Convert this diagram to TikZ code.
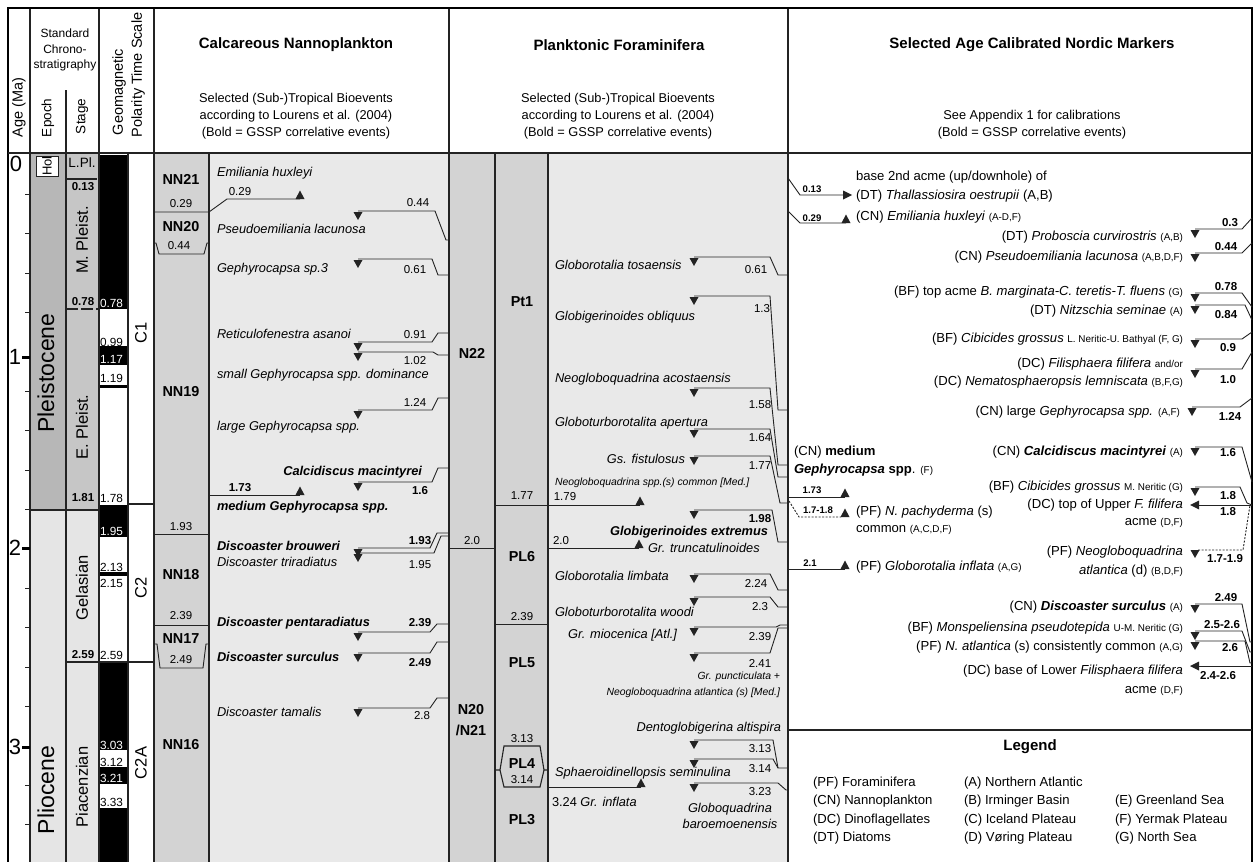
\documentclass[tikz,border=0pt]{standalone}
\usepackage{fontspec}
\setmainfont{Liberation Sans}
\definecolor{plE}{RGB}{183,183,183}
\definecolor{plS}{RGB}{198,198,198}
\definecolor{plio}{RGB}{229,229,229}
\definecolor{zone}{RGB}{211,211,211}
\definecolor{evbg}{RGB}{233,233,233}
\definecolor{ln}{RGB}{35,35,35}
\tikzset{
  every node/.style={inner sep=0pt, outer sep=0pt},
  f/.style={font=\fontsize{13.1}{15}\selectfont},
  fi/.style={font=\fontsize{12.8}{14}\selectfont\itshape},
  fb/.style={font=\fontsize{12.8}{14}\selectfont\bfseries},
  fbi/.style={font=\fontsize{12.8}{14}\selectfont\bfseries\itshape},
  fs/.style={font=\fontsize{10.4}{12}\selectfont\itshape},
  lb/.style={font=\fontsize{11.5}{13}\selectfont},
  lbb/.style={font=\fontsize{11.5}{13}\selectfont\bfseries},
  lbs/.style={font=\fontsize{9.6}{11}\selectfont\bfseries},
  zn/.style={font=\fontsize{14.4}{16}\selectfont\bfseries},
  hd/.style={font=\fontsize{15}{17}\selectfont\bfseries},
  hs/.style={font=\fontsize{12.8}{14}\selectfont},
  pol/.style={font=\fontsize{11.8}{13}\selectfont, anchor=west},
  stg/.style={rotate=90, font=\fontsize{16.5}{18}\selectfont},
  epo/.style={rotate=90, font=\fontsize{23}{25}\selectfont},
  ev/.style={line width=0.9pt, draw=ln},
  col/.style={line width=1.3pt, draw=ln},
}
\newcommand\sr[1]{{\fontsize{9.9}{11}\selectfont\upshape\mdseries #1}}
\newcommand\dtri[2]{\fill[ln] ({#1-4.5},{#2+1}) -- ({#1+4.5},{#2+1}) -- (#1,{#2+9}) -- cycle;}
\newcommand\utri[2]{\fill[ln] ({#1-4.5},#2) -- ({#1+4.5},#2) -- (#1,{#2-8.5}) -- cycle;}
\newcommand\rtri[2]{\fill[ln] ({#1-9},{#2-4.5}) -- ({#1-9},{#2+4.5}) -- (#1,#2) -- cycle;}
\newcommand\ltri[2]{\fill[ln] ({#1+9},{#2-4.5}) -- ({#1+9},{#2+4.5}) -- (#1,#2) -- cycle;}
\begin{document}
\begin{tikzpicture}[x=1pt,y=-1pt]
\useasboundingbox (0,0) rectangle (1258,862);
\fill[white] (0,0) rectangle (1258,862);
% ---------- fills
\fill[plE] (30,153) rectangle (66,510);
\fill[plio] (30,510) rectangle (66,862);
\fill[plS] (66,153) rectangle (99,510);
\fill[plio] (66,510) rectangle (99,862);
\fill[black] (99,155) rectangle (128,309);
\fill[black] (99,346) rectangle (128,365);
\fill[black] (99,385) rectangle (128,388);
\fill[black] (99,505) rectangle (128,537);
\fill[black] (99,572) rectangle (128,576);
\fill[black] (99,662) rectangle (128,750);
\fill[black] (99,767) rectangle (128,784);
\fill[black] (99,808) rectangle (128,862);
\fill[zone] (154,153) rectangle (209,862);
\fill[evbg] (209,153) rectangle (449,862);
\fill[zone] (449,153) rectangle (548,862);
\fill[evbg] (548,153) rectangle (788,862);
% ---------- grid
\draw[col] (30,8)--(30,862) (99,8)--(99,862) (154,8)--(154,862) (449,8)--(449,862);
\draw[col, line width=1.6pt] (788,8)--(788,862);
\draw[col] (66,90)--(66,862) (128,153)--(128,862) (209,153)--(209,862) (495,153)--(495,862) (548,153)--(548,862);
\draw[line width=2.2pt] (8,8)--(1252,8);
\draw[line width=2.2pt] (8,7)--(8,862);
\draw[line width=2.6pt] (1252,7)--(1252,862);
\draw[line width=1.8pt, ln] (8,153)--(1252,153);
% ---------- header
\node[rotate=90, anchor=west, font=\fontsize{14.5}{16}\selectfont] at (19,137) {Age (Ma)};
\node[font=\fontsize{12}{13}\selectfont] at (65,33) {Standard};
\node[font=\fontsize{12}{13}\selectfont] at (65,49) {Chrono-};
\node[font=\fontsize{12}{13}\selectfont] at (65,65) {stratigraphy};
\node[rotate=90, anchor=west, font=\fontsize{13.5}{15}\selectfont] at (48,137) {Epoch};
\node[rotate=90, anchor=west, font=\fontsize{13.5}{15}\selectfont] at (82,134) {Stage};
\node[rotate=90, anchor=west, font=\fontsize{14.5}{16}\selectfont] at (119,135) {Geomagnetic};
\node[rotate=90, anchor=west, font=\fontsize{14.5}{16}\selectfont] at (138,137) {Polarity Time Scale};
\node[hd] at (296,45) {Calcareous Nannoplankton};
\node[hs] at (296,99) {Selected (Sub-)Tropical Bioevents};
\node[hs] at (296,116) {according to Lourens et al. (2004)};
\node[hs] at (296,133) {(Bold = GSSP correlative events)};
\node[hd] at (619,45) {Planktonic Foraminifera};
\node[hs] at (618,99) {Selected (Sub-)Tropical Bioevents};
\node[hs] at (618,116) {according to Lourens et al. (2004)};
\node[hs] at (618,133) {(Bold = GSSP correlative events)};
\node[hd] at (1032,45) {Selected Age Calibrated Nordic Markers};
\node[hs] at (1032,116) {See Appendix 1 for calibrations};
\node[hs] at (1032,133) {(Bold = GSSP correlative events)};
% ---------- age scale
\foreach \a in {0.2,0.4,0.6,0.8,1.2,1.4,1.6,1.8,2.2,2.4,2.6,2.8,3.2,3.4}
  \draw[line width=0.8pt, ln] (25,{155+197*\a}) -- (30,{155+197*\a});
\foreach \y/\l in {357/1,548/2,747/3} {
  \draw[line width=3pt] (22,\y)--(30,\y);
  \node[font=\fontsize{22}{24}\selectfont] at (15,\y) {\l};
}
\node[font=\fontsize{22}{24}\selectfont] at (16,164) {0};
% ---------- epoch
\draw[col] (30,510)--(99,510);
\draw[ln, fill=white, line width=1pt] (36,156) rectangle (58,176);
\node[rotate=90, font=\fontsize{13}{14}\selectfont] at (47,166) {Hol};
\node[epo] at (46,373) {Pleistocene};
\node[epo] at (46,790) {Pliocene};
% ---------- stage
\node[font=\fontsize{13.5}{15}\selectfont] at (82,163) {L.Pl.};
\draw[ln, line width=1.1pt] (66,179)--(97,179);
\node[lbb] at (83,187) {0.13};
\node[stg] at (82,240) {M. Pleist.};
\draw[ln, line width=1.1pt, dash pattern=on 12pt off 3pt] (66,309)--(99,309);
\node[lbb] at (83,302) {0.78};
\node[stg] at (82,427) {E. Pleist.};
\node[lbb] at (83,498) {1.81};
\node[stg] at (82,588) {Gelasian};
\node[lbb] at (83,655) {2.59};
\draw[col] (66,662)--(154,662);
\node[stg] at (82,787) {Piacenzian};
% ---------- polarity labels
\foreach \y/\l in {303/0.78,359/1.17,531/1.95,745/3.03,778/3.21}
  \node[pol, text=white] at (100,\y) {\l};
\foreach \y/\l in {342/0.99,378/1.19,498/1.78,567/2.13,583/2.15,655/2.59,762/3.12,802/3.33}
  \node[pol] at (100,\y) {\l};
\node[stg] at (141,333) {C1};
\draw[col] (128,504)--(154,504);
\node[stg] at (141,588) {C2};
\node[stg] at (141,763) {C2A};
% ---------- nannoplankton zones
\node[zn] at (181,179) {NN21};
\node[lb] at (181,204) {0.29};
\node[zn] at (181,227) {NN20};
\draw[ev] (154,243)--(156,243)--(159,254)--(204,254)--(207,243)--(209,243);
\node[lb] at (179,246) {0.44};
\node[zn] at (181,392) {NN19};
\node[lb] at (181,527) {1.93};
\draw[ev] (154,534)--(209,534);
\node[zn] at (181,575) {NN18};
\node[lb] at (181,616) {2.39};
\draw[ev] (154,625)--(209,625);
\node[zn] at (181,639) {NN17};
\draw[ev] (154,644)--(157,644)--(160,668)--(203,668)--(206,644)--(209,644);
\node[lb] at (181,660) {2.49};
\node[zn] at (181,745) {NN16};
% ---------- nannoplankton events
\node[fi, anchor=west] at (217,173) {Emiliania huxleyi};
\draw[ev] (154,212)--(209,212)--(227,199)--(300,199); \utri{300}{199}
\node[lb] at (240,192) {0.29};
\draw[ev] (358,211)--(435,211)--(446,240)--(449,240); \dtri{358}{211}
\node[lb] at (418,203) {0.44};
\node[fi, anchor=west] at (217,229) {Pseudoemiliania lacunosa};
\draw[ev] (358,259)--(432,259)--(438,275)--(449,275); \dtri{358}{259}
\node[lb] at (415,270) {0.61};
\node[fi, anchor=west] at (217,269) {Gephyrocapsa sp.3};
\node[fi, anchor=west] at (217,334) {Reticulofenestra asanoi};
\draw[ev] (358,342)--(432,342)--(438,333)--(449,333); \dtri{358}{342}
\node[lb] at (415,335) {0.91};
\draw[ev] (358,352)--(433,352)--(438,355)--(449,355); \dtri{358}{352}
\node[lb] at (415,361) {1.02};
\node[fi, anchor=west] at (217,375) {small Gephyrocapsa spp. dominance};
\draw[ev] (358,410)--(432,410)--(438,398)--(449,398); \dtri{358}{410}
\node[lb] at (415,402) {1.24};
\node[fi, anchor=west] at (217,427) {large Gephyrocapsa spp.};
\node[fbi, anchor=east] at (422,472) {Calcidiscus macintyrei};
\draw[ev] (358,482)--(432,482)--(438,468)--(449,468); \dtri{358}{482}
\node[lbb] at (420,491) {1.6};
\draw[ev] (209,495)--(300,495); \utri{300}{495}
\node[lbb] at (240,488) {1.73};
\node[fbi, anchor=west] at (217,507) {medium Gephyrocapsa spp.};
\node[fbi, anchor=west] at (217,546) {Discoaster brouweri};
\node[fi, anchor=west] at (217,562) {Discoaster triradiatus};
\draw[ev] (358,548)--(430,548)--(437,533)--(449,533); \dtri{358}{548}
\draw[ev] (358,553)--(434,553)--(441,536)--(449,536); \dtri{358}{553}
\node[lbb] at (420,541) {1.93};
\node[lb] at (420,565) {1.95};
\node[fbi, anchor=west] at (217,623) {Discoaster pentaradiatus};
\draw[ev] (358,632)--(430,632)--(437,624)--(449,624); \dtri{358}{632}
\node[lbb] at (420,623) {2.39};
\node[fbi, anchor=west] at (217,657) {Discoaster surculus};
\draw[ev] (358,653)--(430,653)--(437,642)--(449,642); \dtri{358}{653}
\node[lbb] at (420,663) {2.49};
\node[fi, anchor=west] at (217,712) {Discoaster tamalis};
\draw[ev] (358,708)--(430,708)--(437,698)--(449,698); \dtri{358}{708}
\node[lb] at (422,716) {2.8};
% ---------- foraminifera zones
\node[zn] at (472,353) {N22};
\node[lb] at (472,541) {2.0};
\draw[ev] (449,548)--(495,548);
\node[zn] at (471,710) {N20};
\node[zn] at (471,730) {/N21};
\node[zn] at (522,302) {Pt1};
\node[lb] at (522,496) {1.77};
\draw[ev] (495,505)--(640,505); \utri{640}{505}
\node[lb] at (565,497) {1.79};
\node[zn] at (522,557) {PL6};
\node[lb] at (522,617) {2.39};
\draw[ev] (495,624)--(548,624);
\node[zn] at (522,663) {PL5};
\node[lb] at (522,739) {3.13};
\draw[ev, line width=1.1pt] (495,770)--(500,770)--(504,746)--(540,746)--(544,770)--(548,770);
\draw[ev, line width=1.1pt] (500,770)--(504,787)--(540,787)--(544,770);
\node[zn] at (522,764) {PL4};
\node[lb] at (522,780) {3.14};
\node[zn] at (522,820) {PL3};
% ---------- foraminifera events
\node[fi, anchor=west] at (555,265) {Globorotalia tosaensis};
\draw[ev] (694,257)--(770,257)--(778,275)--(788,275); \dtri{694}{257}
\node[lb] at (756,270) {0.61};
\draw[ev] (694,296)--(770,296)--(778,410)--(788,410); \dtri{694}{296}
\node[lb] at (762,309) {1.3};
\node[fi, anchor=west] at (555,317) {Globigerinoides obliquus};
\node[fi, anchor=west] at (555,379) {Neogloboquadrina acostaensis};
\draw[ev] (694,388)--(770,388)--(778,465)--(788,465); \dtri{694}{388}
\node[lb] at (760,405) {1.58};
\node[fi, anchor=west] at (555,423) {Globoturborotalita apertura};
\draw[ev] (694,429)--(770,429)--(778,477)--(788,477); \dtri{694}{429}
\node[lb] at (760,438) {1.64};
\node[fi, anchor=east] at (685,459) {Gs. fistulosus};
\draw[ev] (694,456)--(770,456)--(780,503)--(788,503); \dtri{694}{456}
\node[lb] at (760,466) {1.77};
\node[fs, anchor=west] at (555,483) {Neogloboquadrina spp.(s) common [Med.]};
\draw[ev] (694,510)--(772,510)--(778,542)--(788,542); \dtri{694}{510}
\node[lbb] at (760,519) {1.98};
\node[fbi, anchor=east] at (768,532) {Globigerinoides extremus};
\draw[ev] (548,548)--(639,548); \utri{639}{548}
\node[lb] at (561,541) {2.0};
\node[fi, anchor=west] at (648,548) {Gr. truncatulinoides};
\node[fi, anchor=west] at (555,576) {Globorotalia limbata};
\draw[ev] (694,574)--(770,574)--(778,590)--(788,590); \dtri{694}{574}
\node[lb] at (756,583) {2.24};
\draw[ev] (694,597)--(770,597)--(778,607)--(788,607); \dtri{694}{597}
\node[lb] at (760,607) {2.3};
\node[fi, anchor=west] at (555,612) {Globoturborotalita woodi};
\node[fi, anchor=east] at (677,635) {Gr. miocenica [Atl.]};
\draw[ev] (694,627)--(776,627)--(780,625)--(788,625); \dtri{694}{627}
\node[lb] at (760,637) {2.39};
\draw[ev] (694,653)--(770,653)--(778,628)--(788,628); \dtri{694}{653}
\node[lb] at (760,663) {2.41};
\node[fs, anchor=east] at (780,677) {Gr. puncticulata +};
\node[fs, anchor=east] at (780,693) {Neogloboquadrina atlantica (s) [Med.]};
\node[fi, anchor=east] at (781,728) {Dentoglobigerina altispira};
\draw[ev] (694,740)--(773,740)--(778,768)--(788,768); \dtri{694}{740}
\node[lb] at (760,749) {3.13};
\draw[ev] (694,759)--(773,759)--(778,768); \dtri{694}{759}
\node[lb] at (760,769) {3.14};
\node[fi, anchor=west] at (555,773) {Sphaeroidinellopsis seminulina};
\draw[ev] (548,787)--(641,787); \utri{641}{787}
\node[font=\fontsize{12.8}{14}\selectfont, anchor=west] at (552,802) {3.24 \textit{Gr. inflata}};
\draw[ev] (694,783)--(778,783)--(786,790)--(788,790); \dtri{694}{783}
\node[lb] at (760,792) {3.23};
\node[fi] at (730,809) {Globoquadrina};
\node[fi] at (730,824) {baroemoenensis};
% ---------- nordic markers: left side
\draw[ev] (788,178)--(800,195)--(845,195); \rtri{852}{195}
\node[lbs] at (812,189) {0.13};
\node[f, anchor=west] at (856,177) {base 2nd acme (up/downhole) of};
\node[f, anchor=west] at (856,196) {(DT) \textit{Thallassiosira oestrupii} (A,B)};
\draw[ev] (788,211)--(800,223)--(846,223); \utri{846}{223}
\node[lbs] at (812,218) {0.29};
\node[f, anchor=west] at (856,217) {(CN) \textit{Emiliania huxleyi} \sr{(A-D,F)}};
\node[f, anchor=west] at (794,452) {(CN) \textbf{medium}};
\node[f, anchor=west] at (794,470) {\textbf{\textit{Gephyrocapsa} spp}. \sr{(F)}};
\draw[ev] (788,497)--(845,497); \utri{845}{497}
\node[lbs] at (812,490) {1.73};
\draw[ev, dashed, dash pattern=on 2pt off 1.5pt] (789,501)--(799,517)--(841,517); \utri{845}{517}
\node[lbs] at (818,510) {1.7-1.8};
\node[f, anchor=west] at (856,512) {(PF) \textit{N. pachyderma} (s)};
\node[f, anchor=west] at (856,530) {common \sr{(A,C,D,F)}};
\draw[ev] (788,569)--(845,569); \utri{845}{569}
\node[lbs] at (810,563) {2.1};
\node[f, anchor=west] at (856,567) {(PF) \textit{Globorotalia inflata} \sr{(A,G)}};
% ---------- nordic markers: right side
\draw[ev] (1195,229)--(1242,229)--(1252,218); \dtri{1195}{229}
\node[lbb] at (1230,223) {0.3};
\node[f, anchor=east] at (1183,237) {(DT) \textit{Proboscia curvirostris} \sr{(A,B)}};
\draw[ev] (1195,253)--(1242,253)--(1252,243); \dtri{1195}{253}
\node[lbb] at (1226,247) {0.44};
\node[f, anchor=east] at (1183,257) {(CN) \textit{Pseudoemiliania lacunosa} \sr{(A,B,D,F)}};
\draw[ev] (1195,293)--(1242,293)--(1252,307); \dtri{1195}{293}
\node[lbb] at (1226,287) {0.78};
\node[f, anchor=east] at (1183,292) {(BF) top acme \textit{B. marginata-C. teretis-T. fluens} \sr{(G)}};
\draw[ev] (1195,305)--(1245,305)--(1252,320); \dtri{1195}{305}
\node[lbb] at (1226,315) {0.84};
\node[f, anchor=east] at (1183,311) {(DT) \textit{Nitzschia seminae} \sr{(A)}};
\draw[ev] (1195,339)--(1242,339)--(1252,332); \dtri{1195}{339}
\node[lbb] at (1228,348) {0.9};
\node[f, anchor=east] at (1183,339) {(BF) \textit{Cibicides grossus} \sr{L. Neritic-U. Bathyal (F, G)}};
\draw[ev] (1195,369)--(1242,369)--(1252,352); \dtri{1195}{369}
\node[lbb] at (1228,380) {1.0};
\node[f, anchor=east] at (1183,364) {(DC) \textit{Filisphaera filifera} \sr{and/or}};
\node[f, anchor=east] at (1183,382) {(DC) \textit{Nematosphaeropsis lemniscata} \sr{(B,F,G)}};
\draw[ev] (1192,407)--(1240,407)--(1252,398); \dtri{1192}{407}
\node[lbb] at (1230,416) {1.24};
\node[f, anchor=east] at (1180,412) {(CN) large \textit{Gephyrocapsa spp.} \sr{(A,F)}};
\draw[ev] (1195,447)--(1242,447)--(1252,482); \dtri{1195}{447}
\node[lbb] at (1228,453) {1.6};
\node[f, anchor=east] at (1183,452) {(CN) \textbf{\textit{Calcidiscus macintyrei}} \sr{(A)}};
\draw[ev] (1195,487)--(1240,487)--(1247,503)--(1252,505); \dtri{1195}{487}
\node[lbb] at (1228,496) {1.8};
\node[f, anchor=east] at (1183,487) {(BF) \textit{Cibicides grossus} \sr{M. Neritic (G)}};
\draw[ev] (1197,505)--(1252,505); \ltri{1190}{505}
\node[lbb] at (1228,512) {1.8};
\node[f, anchor=east] at (1183,505) {(DC) top of Upper \textit{F. filifera}};
\node[f, anchor=east] at (1183,523) {acme \sr{(D,F)}};
\draw[ev, dashed, dash pattern=on 2pt off 1.5pt] (1198,550)--(1243,550)--(1250,505); \dtri{1195}{549}
\node[lbb] at (1225,559) {1.7-1.9};
\node[f, anchor=east] at (1183,552) {(PF) \textit{Neogloboquadrina}};
\node[f, anchor=east] at (1183,571) {\textit{atlantica} (d) \sr{(B,D,F)}};
\draw[ev] (1195,604)--(1242,604)--(1250,642)--(1252,642); \dtri{1195}{604}
\node[lbb] at (1226,598) {2.49};
\node[f, anchor=east] at (1183,607) {(CN) \textbf{\textit{Discoaster surculus}} \sr{(A)}};
\draw[ev] (1195,631)--(1242,631)--(1250,652)--(1252,652); \dtri{1195}{631}
\node[lbb] at (1222,625) {2.5-2.6};
\node[f, anchor=east] at (1183,628) {(BF) \textit{Monspeliensina pseudotepida} \sr{U-M. Neritic (G)}};
\draw[ev] (1195,641)--(1245,641)--(1250,663)--(1252,663); \dtri{1195}{641}
\node[lbb] at (1230,648) {2.6};
\node[f, anchor=east] at (1183,647) {(PF) \textit{N. atlantica} (s) consistently common \sr{(A,G)}};
\draw[ev] (1197,666)--(1252,666); \ltri{1190}{666}
\node[lbb] at (1218,676) {2.4-2.6};
\node[f, anchor=east] at (1183,671) {(DC) base of Lower \textit{Filisphaera filifera}};
\node[f, anchor=east] at (1183,691) {acme \sr{(D,F)}};
% ---------- legend
\draw[line width=1.8pt, ln] (788,730)--(1252,730);
\node[hd] at (1030,747) {Legend};
\node[f, anchor=west] at (813,783) {(PF) Foraminifera};
\node[f, anchor=west] at (813,801) {(CN) Nannoplankton};
\node[f, anchor=west] at (813,820) {(DC) Dinoflagellates};
\node[f, anchor=west] at (813,838) {(DT) Diatoms};
\node[f, anchor=west] at (964,783) {(A) Northern Atlantic};
\node[f, anchor=west] at (964,801) {(B) Irminger Basin};
\node[f, anchor=west] at (964,820) {(C) Iceland Plateau};
\node[f, anchor=west] at (964,838) {(D) Vøring Plateau};
\node[f, anchor=west] at (1115,801) {(E) Greenland Sea};
\node[f, anchor=west] at (1115,820) {(F) Yermak Plateau};
\node[f, anchor=west] at (1115,838) {(G) North Sea};
\end{tikzpicture}
\end{document}
